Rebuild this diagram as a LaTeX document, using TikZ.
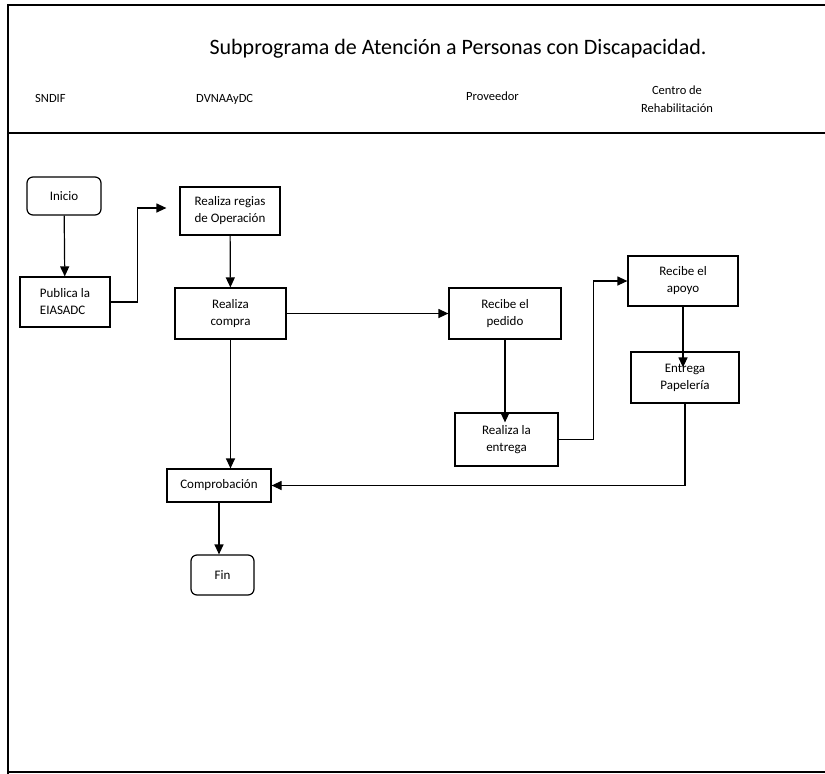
\documentclass[tikz,border=0pt]{standalone}
\usepackage{fontspec}
\setmainfont{Carlito}
\usetikzlibrary{arrows.meta}

\tikzset{
	box/.style={draw, line width=1.2pt, fill=white, align=center, inner sep=2pt, font=\fontsize{13}{17}\selectfont},
	endbox/.style={box, rounded corners=6pt},
	arr/.style={line width=1.2pt, -{Triangle[length=10pt,width=9pt]}},
	lane/.style={inner sep=0pt, font=\fontsize{12.5}{18}\selectfont}
}

\begin{document}
\begin{tikzpicture}[x=1pt, y=-1pt]
	
	\useasboundingbox (0,0) rectangle (825,774);
	
	% marco
	\draw[line width=1.2pt] (8,774) -- (8,5) -- (825,5);
	\draw[line width=1.2pt] (8,133) -- (825,133);
	\draw[line width=1.2pt] (8,772) -- (825,772);
	
	% encabezado
	\node[anchor=base, inner sep=0pt, font=\fontsize{22}{26}\selectfont] (titulo) at (458,54) {Subprograma de Atención a Personas con Discapacidad.};
	\node[lane, anchor=base west] (sndif) at (35,102) {SNDIF};
	\node[lane, anchor=base west] (dvnaa) at (196,102) {DVNAAyDC};
	\node[lane, anchor=base west] (prov) at (466,100) {Proveedor};
	\node[lane, anchor=north, align=center] (centro) at (677,86) {Centro de\\Rehabilitación};
	
	% nodos
	\node[endbox, minimum width=74, minimum height=38] (inicio) at (64,196) {Inicio};
	\node[box, minimum width=90, minimum height=50, align=left] (publica) at (65,302) {Publica la\\EIASADC};
	\node[box, minimum width=100, minimum height=48, align=left] (regias) at (230,211) {Realiza regias\\de Operación};
	\node[box, minimum width=111, minimum height=51] (compra) at (230.5,313.5) {Realiza\\compra};
	\node[box, minimum width=112, minimum height=51] (pedido) at (505,313.5) {Recibe el\\pedido};
	\node[box, minimum width=103, minimum height=53] (entrega) at (506.5,439.5) {Realiza la\\entrega};
	\node[box, minimum width=110, minimum height=50] (apoyo) at (683,281) {Recibe el\\apoyo};
	\node[box, minimum width=108, minimum height=51] (papeleria) at (685,377.5) {Entrega\\Papelería};
	\node[box, minimum width=104, minimum height=33] (comprob) at (219,485.5) {Comprobación};
	\node[endbox, minimum width=63, minimum height=40] (fin) at (222.5,575) {Fin};
	
	% conectores
	\draw[arr] (inicio) -- (publica);
	\draw[arr] (publica.east) -- ++(27,0) |- ([xshift=-13pt,yshift=3pt]regias.west);
	\draw[arr] (regias) -- (compra);
	\draw[arr] (compra) -- (pedido);
	\draw[arr] (pedido.south) -- ([yshift=-10pt]pedido.south |- entrega.north);
	\draw[arr] (entrega.east) -- ++(35,0) |- (apoyo.west);
	\draw[arr] (apoyo.south) -- ([yshift=-16pt]apoyo.south |- papeleria.north);
	\draw[arr] (papeleria.south) |- (comprob.east);
	\draw[arr] (compra.south) -- (compra.south |- comprob.north);
	\draw[arr] (comprob.south) -- (comprob.south |- fin.north);
	
\end{tikzpicture}
\end{document}
